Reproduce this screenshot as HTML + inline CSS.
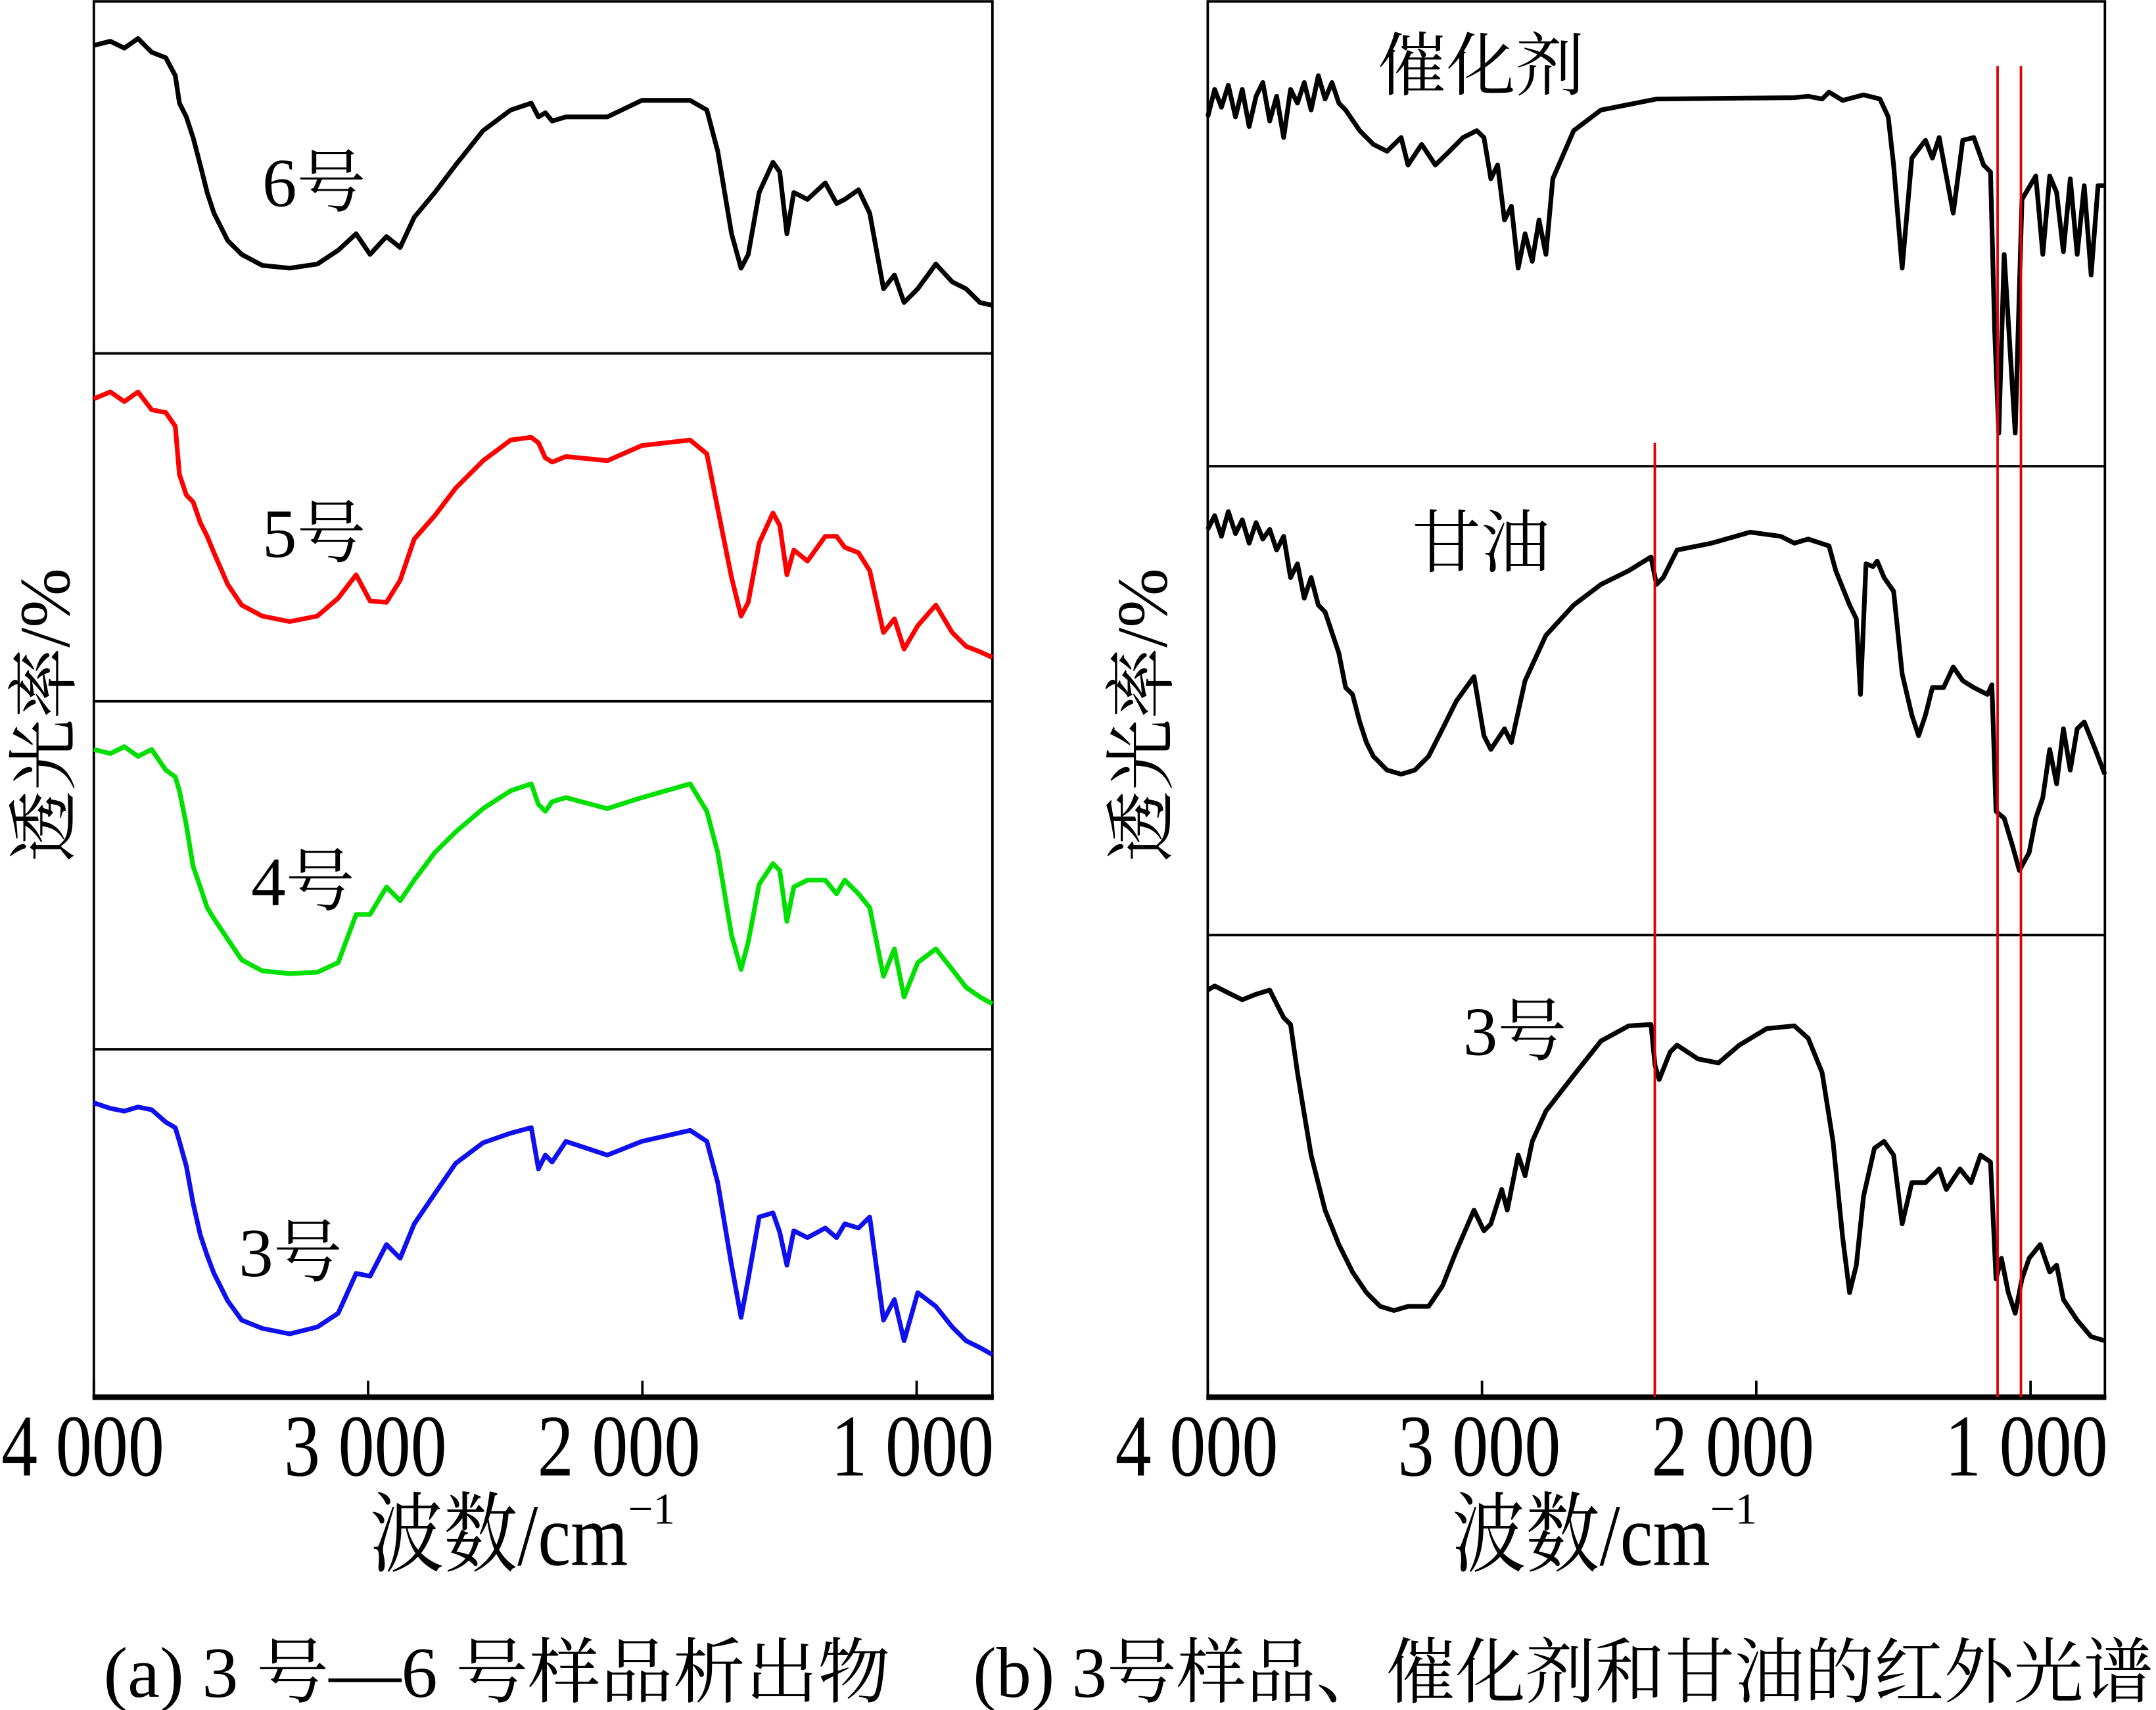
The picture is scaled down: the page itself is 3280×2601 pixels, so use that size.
<!DOCTYPE html>
<html><head><meta charset="utf-8">
<style>
html,body{margin:0;padding:0;background:#fff;}
svg{display:block;}
text{font-family:"Liberation Serif","Noto Serif CJK SC","Noto Sans CJK SC",serif;fill:#000;}
</style></head>
<body>
<svg id="chart" width="3280" height="2601" viewBox="0 0 1562 1243.5" preserveAspectRatio="none" xmlns="http://www.w3.org/2000/svg">
<g id="panelA"></g>
<g id="panelB"></g>
<text x="75" y="1234" font-size="52" textLength="570" lengthAdjust="spacingAndGlyphs">(a) 3 号—6 号样品析出物</text>
<text x="705" y="1234" font-size="52" textLength="855" lengthAdjust="spacingAndGlyphs">(b) 3号样品、催化剂和甘油的红外光谱</text>
</svg>
<script>
// ---------- Panel (a) data ----------
const wnA = [4000,3940,3889,3839,3789,3738,3703,3688,3663,3638,3612,3587,3562,3512,3461,3386,3286,3185,3109,3044,2993,2933,2883,2832,2757,2681,2581,2480,2405,2379,2354,2329,2279,2128,2002,1826,1765,1725,1675,1640,1614,1574,1524,1499,1473,1448,1398,1333,1292,1262,1212,1171,1121,1081,1046,996,930,870,820,769,724];
const s6 = [224,227,222,229,219,215,202,182,172,157,137,117,102,82,72,64,62,65,75,87,72,85,77,99,117,137,162,177,182,172,175,169,172,172,184,184,177,147,87,62,72,117,139,132,87,117,112,124,109,112,119,102,47,57,37,47,65,52,47,37,35];
const s5 = [220,225,218,225,212,210,200,165,150,145,130,120,108,85,70,62,58,62,75,92,73,72,88,118,135,155,175,190,192,188,177,174,178,175,186,190,180,140,90,62,72,115,137,128,92,110,102,120,120,112,108,95,50,60,38,55,70,50,40,36,32];
const s4 = [218,215,220,213,218,203,198,188,163,133,118,103,95,80,65,57,55,56,63,98,98,118,108,123,143,158,175,188,193,178,173,180,183,175,183,193,173,143,83,58,78,120,135,130,93,118,123,123,113,123,113,103,53,73,38,63,73,58,45,38,33];
const s3 = [214,210,208,211,209,200,196,186,168,141,118,103,90,70,56,50,46,51,61,90,88,111,101,126,148,170,185,192,196,166,176,171,186,176,186,194,186,156,96,58,86,131,134,120,96,121,116,123,116,126,123,131,56,71,41,76,66,51,41,36,31];
const labelsA = ["6号","5号","4号","3号"];
// ---------- Panel (b) data ----------
const catWn = [4000,3975,3950,3925,3899,3874,3849,3824,3799,3774,3749,3723,3698,3673,3648,3623,3597,3572,3547,3522,3497,3446,3396,3346,3295,3270,3220,3170,3119,3069,3019,2993,2968,2943,2918,2893,2868,2843,2817,2792,2767,2742,2666,2566,2364,1861,1811,1760,1735,1685,1609,1549,1519,1499,1468,1433,1383,1358,1333,1282,1247,1207,1171,1146,1131,1116,1096,1056,1031,981,955,930,905,880,855,830,804,779,754,729];
const catT = [254,274,261,277,254,274,247,269,279,251,269,239,274,264,279,259,284,267,279,264,259,244,234,229,239,219,234,219,229,239,244,239,209,219,179,189,144,169,149,179,154,209,244,259,267,268,269,267,272,266,270,267,254,219,144,224,237,224,239,184,237,239,219,214,99,24,154,24,194,211,154,211,199,156,209,154,204,139,204,204];
const glyWn = [4000,3975,3950,3925,3899,3874,3849,3824,3799,3774,3749,3723,3698,3673,3648,3623,3597,3572,3547,3522,3497,3472,3446,3421,3396,3346,3295,3245,3195,3144,3094,3029,2993,2968,2918,2893,2843,2767,2666,2566,2465,2384,2364,2339,2289,2163,2022,1911,1861,1811,1735,1710,1660,1635,1620,1600,1574,1559,1534,1499,1468,1433,1408,1383,1358,1317,1282,1247,1207,1157,1141,1126,1096,1066,1041,1005,981,955,930,905,880,855,830,804,764,729];
const glyT = [295,305,290,308,292,302,285,300,288,295,280,290,260,270,245,260,240,235,220,205,180,175,155,140,130,120,117,120,130,150,170,188,145,135,150,140,185,218,240,255,265,275,255,260,280,285,293,290,285,288,283,265,240,230,175,270,268,272,260,250,190,160,145,160,180,180,195,185,180,175,182,90,85,65,47,60,85,100,135,110,150,120,150,155,135,117];
const smpWn = [4000,3975,3925,3874,3824,3774,3749,3723,3698,3673,3648,3623,3572,3522,3472,3421,3371,3321,3270,3195,3144,3094,3029,2993,2968,2928,2908,2868,2843,2817,2767,2666,2566,2465,2384,2369,2354,2314,2289,2213,2138,2062,1962,1861,1811,1760,1720,1685,1660,1635,1609,1569,1534,1499,1468,1433,1383,1333,1307,1257,1217,1182,1146,1126,1106,1081,1056,1031,1005,965,930,905,880,830,779,729];
const smpT = [296,299,294,289,293,296,286,276,271,236,206,176,136,111,91,76,66,63,66,66,81,106,136,121,126,151,136,176,161,186,208,234,259,270,271,241,231,251,256,246,243,256,268,270,261,236,186,116,76,96,146,181,186,176,126,156,156,166,151,166,156,176,171,86,101,76,61,86,101,111,91,96,71,56,44,41];
const markerWn = [2370, 1120, 1035];
const markerTop = [322, 48, 48];
const labelsB = ["催化剂","甘油","3号"];
const ticksX = [4000,3000,2000,1000];
const tickLabels = ["4 000","3 000","2 000","1 000"];

// layout constants (label nudges in px, not data)
const tickLabelShift = [-8, -2, -17, -3];

const NS = "http://www.w3.org/2000/svg";
function mk(parent, tag, attrs, txt){
  const e = document.createElementNS(NS, tag);
  for (const k in attrs) e.setAttribute(k, attrs[k]);
  if (txt !== undefined) e.textContent = txt;
  parent.appendChild(e);
  return e;
}
function xScale(left){ return w => left + (4000 - w) * 0.1987; }
function yScale(bottom){ return v => bottom - v; }
function drawCurve(g, wn, vals, xs, ys, color, name){
  let d = "";
  for (let i = 0; i < wn.length; i++) d += (i ? "L" : "M") + xs(wn[i]).toFixed(1) + "," + ys(vals[i]).toFixed(1);
  const p = mk(g, "path", {d: d, fill: "none", stroke: color, "stroke-width": 3.4, "stroke-linejoin": "round"});
  
  
}
function drawAxes(g, left, right, dividers, xs, ylabelX, xlabelX, prefix){
  const fr = mk(g, "rect", {x: left, y: 1, width: right - left, height: 1015, fill: "none", stroke: "#000", "stroke-width": 1.8});
  
  
  dividers.forEach((y, i) => {
    const l = mk(g, "line", {x1: left, x2: right, y1: y, y2: y, stroke: "#000", "stroke-width": 1.8});
    
    
  });
  const xa = mk(g, "line", {x1: left - 1, x2: right + 1, y1: 1016, y2: 1016, stroke: "#000", "stroke-width": 4});
  
  
  ticksX.forEach((t, i) => {
    const tk = mk(g, "line", {x1: xs(t), x2: xs(t), y1: 1016, y2: 1004, stroke: "#000", "stroke-width": 1.8});
    
    
    const cx = xs(t) + tickLabelShift[i];
    const tl = mk(g, "text", {x: cx - 59, y: 1073, "font-size": 64, textLength: 118, lengthAdjust: "spacingAndGlyphs"}, tickLabels[i]);
    
    
  });
  const xl = mk(g, "text", {x: xlabelX, y: 1138, "font-size": 64});
  
  
  mk(xl, "tspan", {textLength: 187, lengthAdjust: "spacingAndGlyphs"}, "波数/cm");
  mk(xl, "tspan", {dy: -30, "font-size": 32}, "−1");
  const yl = mk(g, "text", {x: 0, y: 0, "font-size": 52, "text-anchor": "middle", transform: "translate(" + ylabelX + ",520) rotate(-90)"}, "透光率/%");
  
  
}

// Panel A
const gA = document.getElementById("panelA");
const xA = xScale(68);
drawAxes(gA, 68, 719, [257, 510, 763], xA, 50, 268, "panel-a");
drawCurve(gA, wnA, s6, xA, yScale(257), "#000000", "curve-sample-6");
drawCurve(gA, wnA, s5, xA, yScale(510), "#ff0000", "curve-sample-5");
drawCurve(gA, wnA, s4, xA, yScale(763), "#00e000", "curve-sample-4");
drawCurve(gA, wnA, s3, xA, yScale(1016), "#1010ee", "curve-sample-3");
[[190,150],[190,405],[182,658],[173,928]].forEach((p, i) => {
  const t = mk(gA, "text", {x: p[0], y: p[1], "font-size": 50}, labelsA[i]);
  
  
});

// Panel B
const gB = document.getElementById("panelB");
const xB = xScale(875);
drawAxes(gB, 875, 1525, [339, 680], xB, 845, 1052, "panel-b");
drawCurve(gB, catWn, catT, xB, yScale(339), "#000000", "curve-catalyst");
drawCurve(gB, glyWn, glyT, xB, yScale(680), "#000000", "curve-glycerol");
drawCurve(gB, smpWn, smpT, xB, yScale(1016), "#000000", "curve-sample-3-b");
markerWn.forEach((w, i) => {
  const l = mk(gB, "line", {x1: xB(w), x2: xB(w), y1: markerTop[i], y2: 1016, stroke: "#e00000", "stroke-width": 1.8});
  
  
});
[[998,65],[1023,412],[1060,767]].forEach((p, i) => {
  const t = mk(gB, "text", {x: p[0], y: p[1], "font-size": 50}, labelsB[i]);
  
  
});
</script>
</body></html>
